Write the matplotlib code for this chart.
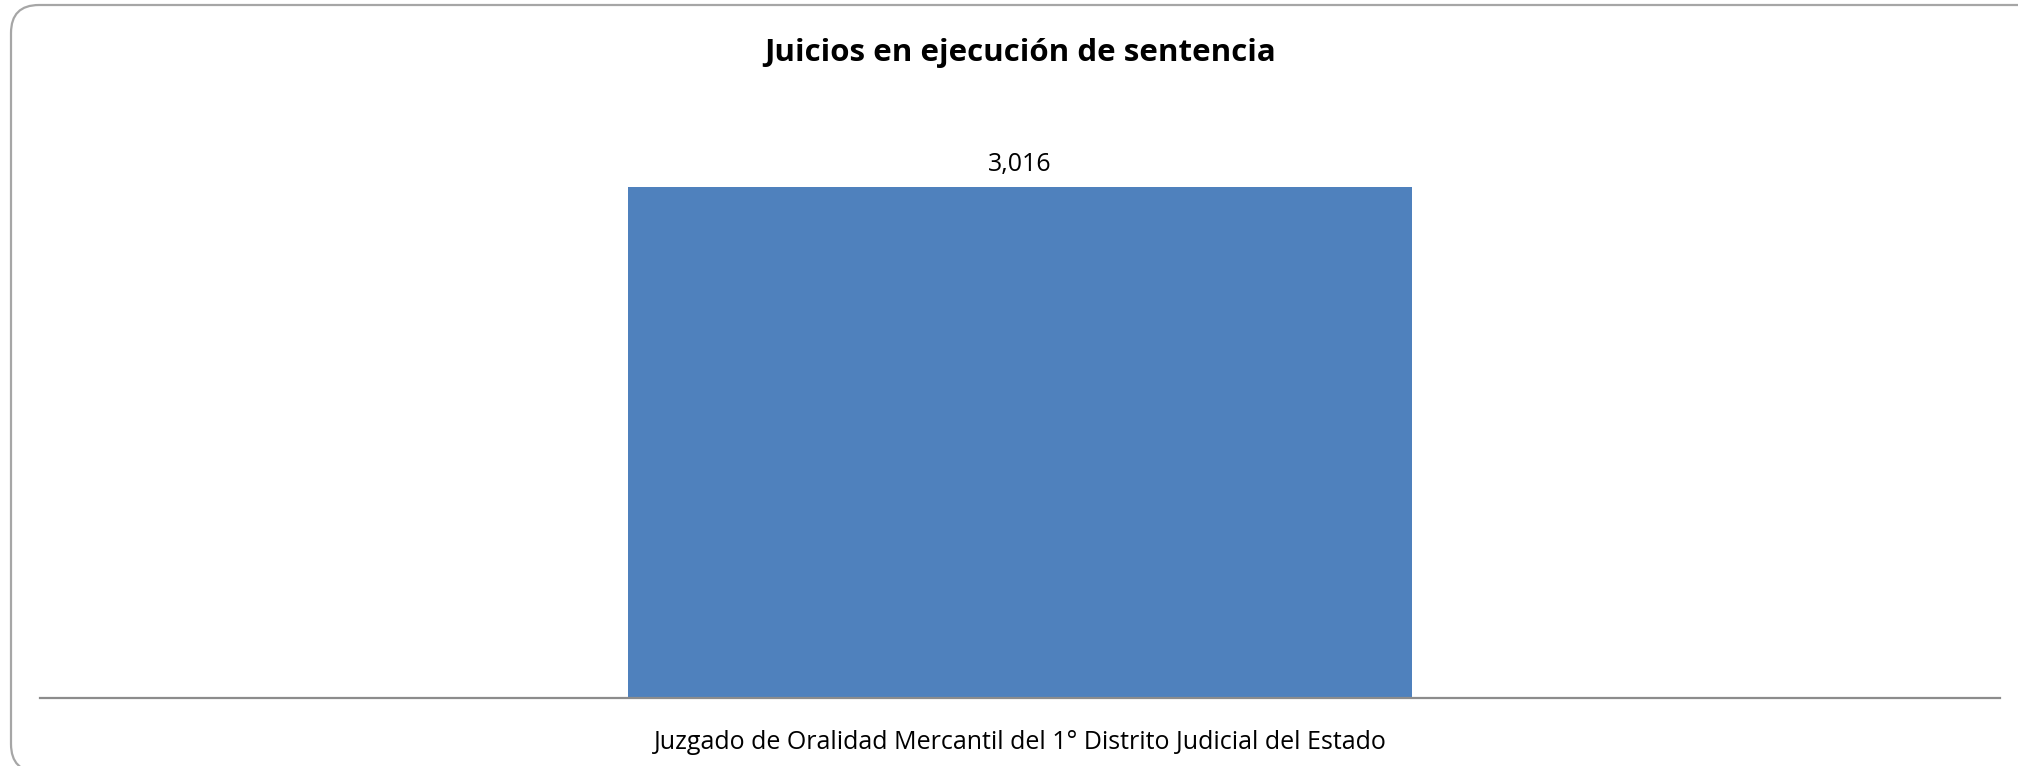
import matplotlib
matplotlib.use('Agg')
import matplotlib.pyplot as plt
from matplotlib.patches import FancyBboxPatch

categories = ['Juzgado de Oralidad Mercantil del 1° Distrito Judicial del Estado']
values = [3016]
title = 'Juicios en ejecución de sentencia'

W, H = 2018, 766
fig = plt.figure(figsize=(W / 100, H / 100), dpi=100)
plt.rcParams['font.family'] = ['Open Sans', 'DejaVu Sans']

# rounded chart-area frame, in pixel coords (origin bottom-left)
bg = fig.add_axes([0, 0, 1, 1])
bg.set_xlim(0, W)
bg.set_ylim(0, H)
bg.axis('off')
bg.add_patch(FancyBboxPatch((11, H - 772), 2070 - 11, 772 - 5,
                            boxstyle='round,pad=0,rounding_size=28',
                            facecolor='none', edgecolor='#a6a6a6',
                            linewidth=1.6, clip_on=False))

ax = fig.add_axes([40 / W, 1 - 698 / H, 1960 / W, (698 - 105) / H])
x = range(len(categories))
ax.bar(x, values, width=0.4, color='#4f81bd')
ax.set_xlim(-0.5, 0.5)
ax.set_ylim(0, 3500)
for xi, v in zip(x, values):
    ax.annotate(f'{v:,}', (xi, v), xytext=(0, 10), textcoords='offset pixels',
                ha='center', va='bottom', fontsize=18)

ax.set_xticks(list(x))
ax.set_xticklabels(categories, fontsize=18)
ax.tick_params(axis='x', length=0, pad=23)
ax.set_yticks([])
for s in ['top', 'right', 'left']:
    ax.spines[s].set_visible(False)
ax.spines['bottom'].set_color('#8c8c8c')
ax.spines['bottom'].set_linewidth(1.6)

fig.text(1020 / W, 1 - 53 / H, title, ha='center', va='center',
         fontsize=22.5, fontweight='bold')

fig.savefig('out.png', dpi=100)
